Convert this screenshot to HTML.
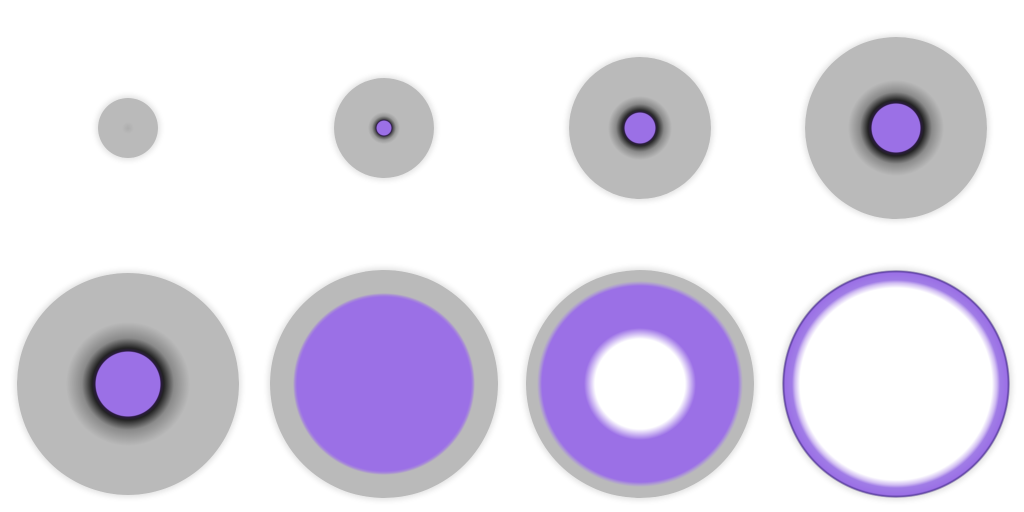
<!DOCTYPE html>
<html><head><meta charset="utf-8"><style>
html,body{margin:0;padding:0;background:#fff;width:1024px;height:512px;overflow:hidden;position:relative}
.c{position:absolute;border-radius:50%;box-shadow:0 0 6px 2px rgba(0,0,0,0.12)}
</style></head><body>
<div class="c" style="left:98px;top:98px;width:60px;height:60px;background:radial-gradient(circle,#adadad 0,#bababa 6px)"></div>
<div class="c" style="left:334px;top:78px;width:100px;height:100px;background:radial-gradient(circle,#9b70e6 0 7px,#2a1a40 8px,#505050 9px,#9a9a9a 12px,#bababa 16px)"></div>
<div class="c" style="left:569px;top:57px;width:142px;height:142px;background:radial-gradient(circle,#9b70e6 0 15px,#2a1a40 16px,#2a2a2a 18px,#8a8a8a 24px,#bababa 32px)"></div>
<div class="c" style="left:805px;top:37px;width:182px;height:182px;background:radial-gradient(circle,#9b70e6 0 24px,#2a1a40 25px,#222 28px,#8a8a8a 36px,#bababa 48px)"></div>
<div class="c" style="left:17px;top:273px;width:222px;height:222px;background:radial-gradient(circle,#9b70e6 0 32px,#2a1a40 33px,#222 36px,#8a8a8a 46px,#bababa 62px)"></div>
<div class="c" style="left:270px;top:270px;width:228px;height:228px;background:radial-gradient(circle,#9b70e6 0 87px,#a78ad8 89px,#bababa 91px)"></div>
<div class="c" style="left:526px;top:270px;width:228px;height:228px;background:radial-gradient(circle,#fff 0 45px,#9b70e6 56px,#9b70e6 98px,#b0a0d0 101px,#bababa 103px)"></div>
<div class="c" style="left:782px;top:270px;width:228px;height:228px;background:radial-gradient(circle,#fff 0 96px,#d0bcf2 101px,#a07ce6 104px,#9b70e6 111px,#5a3ea0 112.5px,#cfcfcf 114px)"></div>
</body></html>
